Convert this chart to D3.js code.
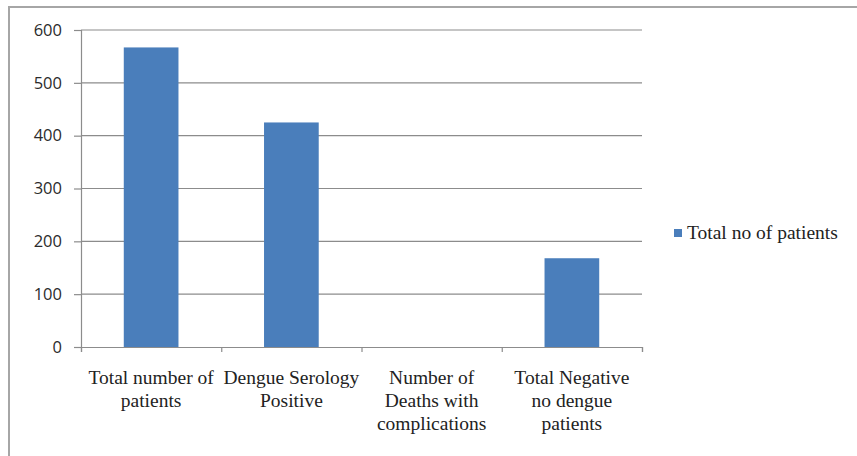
<!DOCTYPE html>
<html lang="en">

<head>
  <meta charset="UTF-8">
  <title>Dengue patients</title>
  <script src="https://d3js.org/d3.v7.min.js"></script>
  <style>
    body { margin: 0; background: #fff; }
    .serif { font-family: 'Liberation Serif', 'Times New Roman', 'DejaVu Serif', serif; }
  </style>
</head>

<body>
  <svg id="chart" width="857" height="456"></svg>
  <script>
    // data
    let categories = [
      ["Total number of", "patients"],
      ["Dengue Serology", "Positive"],
      ["Number of", "Deaths with", "complications"],
      ["Total Negative", "no dengue", "patients"]
    ];
    let values = [567, 425, 0, 168];
    let yTicks = [0, 100, 200, 300, 400, 500, 600];
    let seriesName = "Total no of patients";

    let svg = d3.select('#chart');
    let plotLeft = 81, plotRight = 642, plotTop = 30, plotBottom = 347;

    // outer chart border (only top and left visible)
    svg.append('path')
      .attr('d', 'M9,457 L9,7 L858,7')
      .attr('fill', 'none')
      .attr('stroke', '#a6a6a6')
      .attr('stroke-width', 2);

    let x = d3.scaleBand()
      .domain(d3.range(categories.length))
      .range([plotLeft, plotRight])
      .paddingInner(0.61)
      .paddingOuter(0.305);

    let y = d3.scaleLinear().domain([0, 600]).range([plotBottom, plotTop]);

    // gridlines
    svg.append('g')
      .selectAll('line')
      .data(yTicks.filter(function (d) { return d > 0; }))
      .join('line')
      .attr('x1', plotLeft).attr('x2', plotRight)
      .attr('y1', function (d) { return y(d); })
      .attr('y2', function (d) { return y(d); })
      .attr('stroke', '#8c8c8c')
      .attr('stroke-width', 1.2);

    // y axis
    let axisLeft = d3.axisLeft(y).tickValues(yTicks).tickSize(7).tickPadding(12);
    let gy = svg.append('g')
      .attr('transform', 'translate(' + plotLeft + ',0)')
      .call(axisLeft);
    gy.attr('font-family', null).attr('font-size', null);
    gy.select('.domain').attr('stroke', '#8c8c8c').attr('stroke-width', 1.2);
    gy.selectAll('.tick line').attr('stroke', '#8c8c8c').attr('stroke-width', 1.2);
    gy.selectAll('.tick text')
      .attr('fill', '#2b2b2b')
      .attr('font-family', 'Open Sans, Liberation Sans, sans-serif')
      .attr('font-size', 16.5);

    // bars
    svg.append('g')
      .selectAll('rect')
      .data(values)
      .join('rect')
      .attr('x', function (d, i) { return x(i); })
      .attr('y', function (d) { return y(d); })
      .attr('width', x.bandwidth())
      .attr('height', function (d) { return y(0) - y(d); })
      .attr('fill', '#4a7ebb');

    // x axis with ticks on category boundaries
    let bx = d3.scaleLinear().domain([0, categories.length]).range([plotLeft, plotRight]);
    let axisBottom = d3.axisBottom(bx).ticks(categories.length).tickSize(5).tickFormat('');
    let gx = svg.append('g')
      .attr('transform', 'translate(0,' + plotBottom + ')')
      .call(axisBottom);
    gx.select('.domain').attr('stroke', '#8c8c8c').attr('stroke-width', 1.2);
    gx.selectAll('.tick line').attr('stroke', '#8c8c8c').attr('stroke-width', 1.2);

    // category labels
    let labels = svg.append('g')
      .attr('class', 'serif')
      .attr('font-size', 19.5)
      .selectAll('text')
      .data(categories)
      .join('text')
      .attr('text-anchor', 'middle')
      .attr('fill', '#222');
    labels.selectAll('tspan')
      .data(function (d, i) { return d.map(function (t) { return { t: t, i: i }; }); })
      .join('tspan')
      .attr('x', function (d) { return x(d.i) + x.bandwidth() / 2; })
      .attr('y', function (d, j) { return 384 + j * 23; })
      .text(function (d) { return d.t; });

    // legend
    let legend = svg.append('g').attr('transform', 'translate(674,233)');
    legend.append('rect')
      .attr('x', 0).attr('y', -4)
      .attr('width', 8).attr('height', 8)
      .attr('fill', '#4a7ebb');
    legend.append('text')
      .attr('class', 'serif')
      .attr('font-size', 19.5)
      .attr('x', 13).attr('y', 6)
      .attr('fill', '#222')
      .text(seriesName);
  </script>
</body>

</html>
